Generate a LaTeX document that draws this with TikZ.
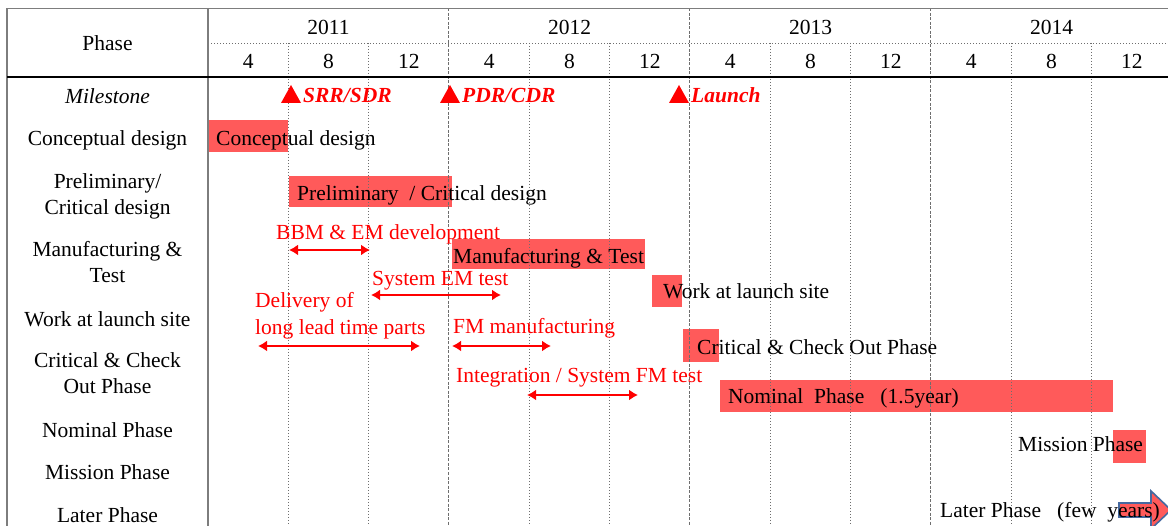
\documentclass[tikz,border=0pt]{standalone}
\usepackage{fontspec}
\setmainfont{Liberation Serif}
\usetikzlibrary{arrows.meta}
\definecolor{barred}{RGB}{255,90,90}
\definecolor{txtred}{RGB}{255,0,0}
\definecolor{framegray}{RGB}{125,125,125}
\definecolor{gridgray}{RGB}{110,110,110}
\definecolor{arrowblue}{RGB}{70,105,160}
\begin{document}
\begin{tikzpicture}[x=1pt,y=-1pt,
  every node/.style={font=\fontsize{21.5}{24}\selectfont, inner sep=0pt, text height=17pt, text depth=1pt},
  lbl/.style={anchor=center},
  bartxt/.style={anchor=west},
  redtxt/.style={anchor=west, text=txtred},
  mstxt/.style={anchor=west, text=txtred, font=\fontsize{21.5}{24}\selectfont\bfseries\itshape},
  bar/.style={fill=barred, draw=none, anchor=north west},
  frameline/.style={draw=framegray, line width=1.2pt},
  yearline/.style={draw=gridgray, line width=1pt, dash pattern=on 3pt off 1.5pt},
  monthline/.style={draw=gridgray, line width=0.8pt, dash pattern=on 1pt off 2pt},
  span/.style={draw=txtred, line width=2pt, {Latex[length=9pt,width=11pt]}-{Latex[length=9pt,width=11pt]}},
  msmark/.style={fill=txtred, draw=none},
  ]
\useasboundingbox (0,0) rectangle (1168,526);

% ---- bars ----
\node[bar, minimum width=80pt, minimum height=32pt] (b1) at (208,120) {};
\node[bar, minimum width=163pt, minimum height=31pt] (b2) at (289,176) {};
\node[bar, minimum width=193pt, minimum height=30pt] (b3) at (452,239) {};
\node[bar, minimum width=30pt, minimum height=32pt] (b4) at (652,275) {};
\node[bar, minimum width=36pt, minimum height=33pt] (b5) at (683,329) {};
\node[bar, minimum width=393pt, minimum height=32pt] (b6) at (720,380) {};
\node[bar, minimum width=33pt, minimum height=33pt] (b7) at (1113,430) {};
\draw[fill=barred, draw=arrowblue, line width=1.6pt]
  (1119,503) -- (1151,503) -- (1151,491) -- (1171,510) -- (1151,529) -- (1151,517) -- (1119,517) -- cycle;

% ---- grid ----
\foreach \k in {1,2,4,5,7,8,10,11} {
  \draw[monthline] (208+80.33*\k,43) -- (208+80.33*\k,526);
}
\draw[monthline] (208,43) -- (1168,43);
\foreach \k in {3,6,9} {
  \draw[yearline] (208+80.33*\k,8.5) -- (208+80.33*\k,526);
}
\draw[frameline] (7,8.5) -- (1168,8.5);
\draw[frameline] (7,8.5) -- (7,526);
\draw[frameline] (208,8.5) -- (208,526);
\draw[draw=black, line width=1.2pt] (7,77) -- (1168,77);

% ---- header ----
\node[lbl] (hphase) at (107.5,43) {Phase};
\node[lbl] (y11) at (328.5,27) {2011};
\node[lbl] (y12) at (569.5,27) {2012};
\node[lbl] (y13) at (810.5,27) {2013};
\node[lbl] (y14) at (1051.5,27) {2014};
\foreach \k/\m in {0/4,1/8,2/12,3/4,4/8,5/12,6/4,7/8,8/12,9/4,10/8,11/12} {
  \node[lbl] (m\k) at (248.2+80.33*\k,61) {\m};
}

% ---- row labels ----
\node[lbl, font=\fontsize{21.5}{24}\selectfont\itshape] (rms) at (107.5,96) {Milestone};
\node[lbl] (r1) at (107.5,138) {Conceptual design};
\node[lbl] (r2a) at (107.5,181) {Preliminary/};
\node[lbl] (r2b) at (107.5,207) {Critical design};
\node[lbl] (r3a) at (107.5,249) {Manufacturing \&};
\node[lbl] (r3b) at (107.5,275) {Test};
\node[lbl] (r4) at (107.5,319) {Work at launch site};
\node[lbl] (r5a) at (107.5,360) {Critical \& Check};
\node[lbl] (r5b) at (107.5,386) {Out Phase};
\node[lbl] (r6) at (107.5,430) {Nominal Phase};
\node[lbl] (r7) at (107.5,472) {Mission Phase};
\node[lbl] (r8) at (107.5,514) {Later Phase};

% ---- milestones ----
\fill[msmark] (281,103) -- (291,85) -- (301,103) -- cycle;
\node[mstxt] (ms1) at (303,95) {SRR/SDR};
\fill[msmark] (440,103) -- (450,85) -- (460,103) -- cycle;
\node[mstxt] (ms2) at (462,95) {PDR/CDR};
\fill[msmark] (669,103) -- (679,85) -- (689,103) -- cycle;
\node[mstxt] (ms3) at (691,95) {Launch};

% ---- bar texts ----
\node[bartxt] (t1) at (216,138) {Conceptual design};
\node[bartxt] (t2) at (297,193) {Preliminary\ \ / Critical design};
\node[bartxt] (t3) at (453,256) {Manufacturing \& Test};
\node[bartxt] (t4) at (663,291) {Work at launch site};
\node[bartxt] (t5) at (697,347) {Critical \& Check Out Phase};
\node[bartxt] (t6) at (728,396) {Nominal\ \ Phase\ \ \ (1.5year)};
\node[bartxt] (t7) at (1018,444) {Mission Phase};
\node[bartxt] (t8) at (940,510) {Later Phase\ \ \ (few\ \ years)};

% ---- red annotations ----
\node[redtxt] (n1) at (276,232) {BBM \& EM development};
\node[redtxt] (n2) at (372,278) {System EM test};
\node[redtxt] (n3a) at (255,300) {Delivery of};
\node[redtxt] (n3b) at (255,327) {long lead time parts};
\node[redtxt] (n4) at (453,326) {FM manufacturing};
\node[redtxt] (n5) at (456,375) {Integration / System FM test};

\coordinate (a1s) at (289,250); \coordinate (a1e) at (370,250);
\coordinate (a2s) at (371,295); \coordinate (a2e) at (501,295);
\coordinate (a3s) at (258,346); \coordinate (a3e) at (420,346);
\coordinate (a4s) at (452,346); \coordinate (a4e) at (551,346);
\coordinate (a5s) at (527,395); \coordinate (a5e) at (638,395);
\draw[span] (a1s) -- (a1e);
\draw[span] (a2s) -- (a2e);
\draw[span] (a3s) -- (a3e);
\draw[span] (a4s) -- (a4e);
\draw[span] (a5s) -- (a5e);
\end{tikzpicture}
\end{document}
